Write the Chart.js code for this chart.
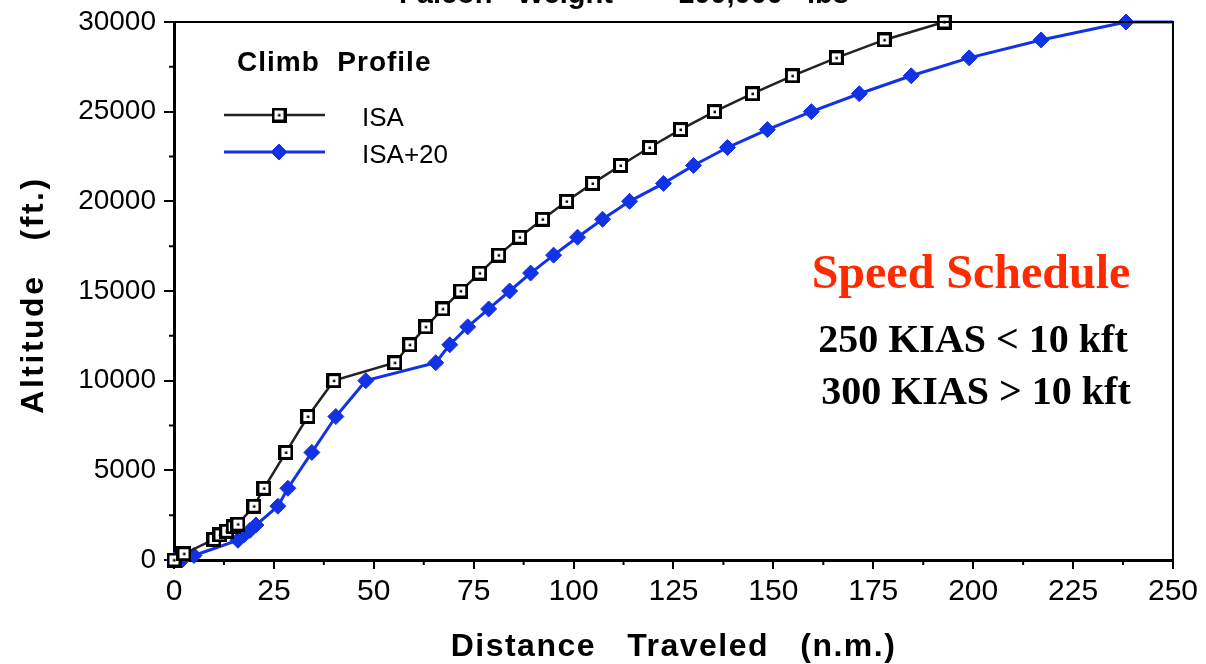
<!DOCTYPE html>
<html>
<head>
<meta charset="utf-8">
<script src="https://cdn.jsdelivr.net/npm/chart.js@4.4.1/dist/chart.umd.min.js"></script>
<style>
  html, body { margin: 0; padding: 0; background: #fff; }
  #wrap { width: 1206px; height: 664px; }
</style>
</head>
<body>
<div id="wrap"><canvas id="c" width="1206" height="664"></canvas></div>
<script>
// ---- data ----
const isaDist = [0, 2.5, 10, 11.5, 13.2, 14.8, 16, 20, 22.5, 28, 33.5, 40, 55.25, 59, 63, 67.25, 71.75, 76.5, 81.25, 86.5, 92.25, 98.25, 104.75, 111.75, 119, 126.75, 135.25, 144.75, 154.75, 165.75, 177.75, 192.75];
const isaAlt  = [0, 350, 1150, 1400, 1600, 1850, 2000, 3000, 4000, 6000, 8000, 10000, 11000, 12000, 13000, 14000, 15000, 16000, 17000, 18000, 19000, 20000, 21000, 22000, 23000, 24000, 25000, 26000, 27000, 28000, 29000, 30000];
const isa20Dist = [0, 2, 5, 16, 17.5, 19, 20.5, 26, 28.5, 34.5, 40.5, 48, 65.5, 69, 73.5, 78.75, 84, 89.25, 95, 101, 107.25, 114, 122.5, 130, 138.5, 148.5, 159.5, 171.5, 184.5, 199, 217, 238.25, 250];
const isa20Alt  = [0, 0, 250, 1100, 1400, 1650, 1950, 3000, 4000, 6000, 8000, 10000, 11000, 12000, 13000, 14000, 15000, 16000, 17000, 18000, 19000, 20000, 21000, 22000, 23000, 24000, 25000, 26000, 27000, 28000, 29000, 30000, 30000];
const xTickValues = [0, 25, 50, 75, 100, 125, 150, 175, 200, 225, 250];
const yTickValues = [0, 5000, 10000, 15000, 20000, 25000, 30000];
const seriesNames = ['ISA', 'ISA+20'];
const legendTitle = 'Climb  Profile';
const chartTitle = 'Falcon   Weight   =   100,000   lbs';
const noteTitle = 'Speed Schedule';
const noteLines = ['250 KIAS < 10 kft', '300 KIAS > 10 kft'];
const xTitle = 'Distance   Traveled   (n.m.)';
const yTitle = 'Altitude   (ft.)';

const SANS = '"Liberation Sans", Arial, Helvetica, sans-serif';
const SERIF = '"Liberation Serif", "Times New Roman", serif';
const BLUE = '#1232e6';
const DIAMOND_R = 8;

// open square marker with a small dot inside, as in the reference
const sq = document.createElement('canvas');
sq.width = 15; sq.height = 15;
(function () {
  const g = sq.getContext('2d');
  g.fillStyle = '#fff';
  g.fillRect(1, 1, 13, 13);
  g.strokeStyle = '#000';
  g.lineWidth = 3;
  g.strokeRect(1.5, 1.5, 12, 12);
  g.fillStyle = '#000';
  g.fillRect(6.5, 6.5, 2.5, 2.5);
})();

const toPts = (xs, ys) => xs.map((x, i) => ({ x: x, y: ys[i] }));

const decorPlugin = {
  id: 'decor',
  afterDraw(chart) {
    const ctx = chart.ctx;
    const a = chart.chartArea;
    const xs = chart.scales.x, ys = chart.scales.y;
    ctx.save();
    // frame top and right
    ctx.strokeStyle = '#000';
    ctx.lineWidth = 2;
    ctx.beginPath();
    ctx.moveTo(a.left, a.top); ctx.lineTo(a.right, a.top); ctx.lineTo(a.right, a.bottom);
    ctx.stroke();
    // minor ticks
    ctx.beginPath();
    for (let v = 2500; v < 30000; v += 5000) {
      const py = ys.getPixelForValue(v);
      ctx.moveTo(a.left - 5, py); ctx.lineTo(a.left, py);
    }
    for (let v = 12.5; v < 250; v += 25) {
      const px = xs.getPixelForValue(v);
      ctx.moveTo(px, a.bottom); ctx.lineTo(px, a.bottom + 5);
    }
    ctx.stroke();
    ctx.restore();

    ctx.save();
    // title (cut off at top)
    ctx.fillStyle = '#000';
    ctx.font = 'bold 29px ' + SANS;
    ctx.textAlign = 'center';
    ctx.textBaseline = 'alphabetic';
    ctx.fillText(chartTitle, 624, 3);

    // legend
    ctx.textAlign = 'left';
    ctx.font = 'bold 28px ' + SANS;
    ctx.letterSpacing = '1px';
    ctx.fillText(legendTitle, 237, 71);
    ctx.letterSpacing = '0px';
    const ds = chart.data.datasets;
    const rows = [115, 152];
    const radii = [7, DIAMOND_R];
    ctx.font = '26px ' + SANS;
    for (let i = 0; i < 2; i++) {
      const d = ds[i];
      ctx.strokeStyle = d.borderColor;
      ctx.lineWidth = d.borderWidth;
      ctx.beginPath();
      ctx.moveTo(224, rows[i]); ctx.lineTo(325, rows[i]);
      ctx.stroke();
      ctx.fillStyle = d.pointBackgroundColor;
      ctx.strokeStyle = d.pointBorderColor;
      ctx.lineWidth = d.pointBorderWidth;
      Chart.helpers.drawPoint(ctx, { pointStyle: d.pointStyle, radius: radii[i], borderWidth: d.pointBorderWidth, rotation: 0 }, 279, rows[i]);
      ctx.fillStyle = '#000';
      ctx.fillText(d.label, 362, rows[i] + 11);
    }

    // speed schedule note
    ctx.textAlign = 'center';
    ctx.fillStyle = '#ff2a00';
    ctx.font = 'bold 48px ' + SERIF;
    ctx.fillText(noteTitle, 971, 288);
    ctx.fillStyle = '#000';
    ctx.font = 'bold 40px ' + SERIF;
    ctx.fillText(noteLines[0], 973, 352);
    ctx.fillText(noteLines[1], 976, 404);

    // axis titles
    ctx.font = 'bold 32px ' + SANS;
    ctx.letterSpacing = '1.5px';
    ctx.fillText(xTitle, (a.left + a.right) / 2, 656);
    ctx.letterSpacing = '2.5px';
    ctx.translate(43, 295);
    ctx.rotate(-Math.PI / 2);
    ctx.fillText(yTitle, 0, 0);
    ctx.restore();
  }
};

new Chart(document.getElementById('c'), {
  type: 'line',
  data: {
    datasets: [
      {
        label: seriesNames[0],
        data: toPts(isaDist, isaAlt),
        borderColor: '#222',
        borderWidth: 2.5,
        pointStyle: sq,
        pointRadius: 7,
        pointBorderWidth: 2.5,
        pointBorderColor: '#000',
        pointBackgroundColor: '#fff',
        tension: 0,
        clip: false
      },
      {
        label: seriesNames[1],
        data: toPts(isa20Dist, isa20Alt),
        borderColor: BLUE,
        borderWidth: 3,
        pointStyle: 'rectRot',
        pointRadius: isa20Dist.map((x, i) => i === isa20Dist.length - 1 ? 0 : DIAMOND_R),
        pointBorderWidth: 1,
        pointBorderColor: BLUE,
        pointBackgroundColor: BLUE,
        tension: 0,
        clip: false
      }
    ]
  },
  plugins: [decorPlugin],
  options: {
    responsive: false,
    animation: false,
    events: [],
    layout: { padding: { top: 20, right: 32, left: 0, bottom: 0 } },
    plugins: { legend: { display: false }, tooltip: { enabled: false }, title: { display: false } },
    scales: {
      x: {
        type: 'linear',
        min: 0, max: 250,
        afterBuildTicks: s => { s.ticks = xTickValues.map(v => ({ value: v })); },
        afterFit: s => { s.height = 104; },
        border: { display: true, color: '#000', width: 3 },
        grid: { display: true, drawOnChartArea: false, drawTicks: true, tickLength: 9, color: '#000', lineWidth: 2 },
        ticks: { color: '#000', font: { family: SANS, size: 30, lineHeight: 1.0 }, padding: 8, maxRotation: 0, autoSkip: false }
      },
      y: {
        type: 'linear',
        min: 0, max: 30000,
        afterBuildTicks: s => { s.ticks = yTickValues.map(v => ({ value: v })); },
        afterFit: s => { s.width = 174; },
        border: { display: true, color: '#000', width: 3 },
        grid: { display: true, drawOnChartArea: false, drawTicks: true, tickLength: 10, color: '#000', lineWidth: 2 },
        ticks: { color: '#000', font: { family: SANS, size: 28, lineHeight: 1.0 }, padding: 8, autoSkip: false, callback: v => String(v) }
      }
    }
  }
});
</script>
</body>
</html>
